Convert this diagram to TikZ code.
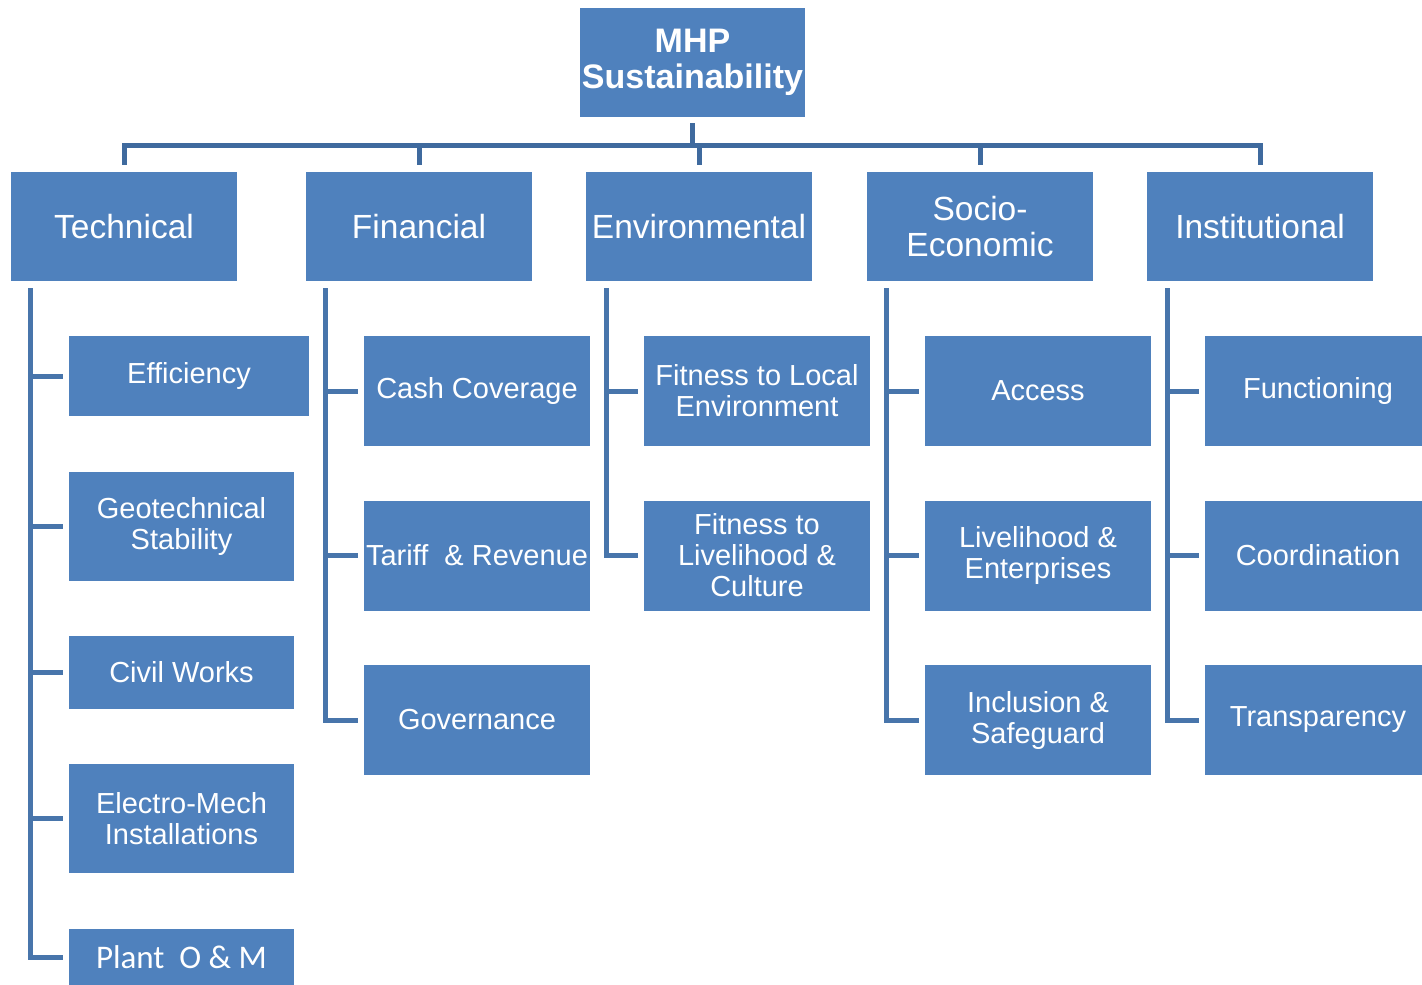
\documentclass[tikz,border=0pt]{standalone}
\usepackage{fontspec}
\setmainfont{Liberation Sans}
\newfontfamily\calfont{Carlito}
\usetikzlibrary{calc}
\definecolor{boxblue}{HTML}{4F81BD}
\definecolor{busline}{HTML}{3F6A9E}
\definecolor{subline}{HTML}{4875AB}
\tikzset{
 box/.style={fill=boxblue, draw=none, text=white, inner sep=0pt, align=center},
 rootbox/.style={box, minimum width=225pt, minimum height=109pt, font=\fontsize{34}{36}\selectfont\bfseries},
 catbox/.style={box, minimum width=226pt, minimum height=109pt, font=\fontsize{33.5}{36}\selectfont},
 subbox/.style={box, minimum width=226pt, minimum height=110pt, font=\fontsize{29}{31}\selectfont},
 bus/.style={draw=busline, line width=5pt},
 branch/.style={draw=subline, line width=5pt},
}
\begin{document}
\begin{tikzpicture}[x=1pt,y=-1pt]
\useasboundingbox (0,0) rectangle (1422,985);
\clip (0,0) rectangle (1422,985);

% root
\node[rootbox] (mhp) at (692.5,62.5) {MHP\\Sustainability};

% categories
\node[catbox] (tech) at (124,226.5) {Technical};
\node[catbox] (fin)  at (419,226.5) {Financial};
\node[catbox] (env)  at (699,226.5) {Environmental};
\node[catbox] (soc)  at (980,226.5) {Socio-\\Economic};
\node[catbox] (inst) at (1260,226.5) {Institutional};

% technical children
\node[subbox, minimum width=240pt, minimum height=80pt] (eff) at (189,376) {Efficiency};
\node[subbox, minimum width=225pt, minimum height=109pt] (geo) at (181.5,526.5) {Geotechnical\\Stability};
\node[subbox, minimum width=225pt, minimum height=73pt] (civ) at (181.5,672.5) {Civil Works};
\node[subbox, minimum width=225pt, minimum height=109pt] (ele) at (181.5,818.5) {Electro-Mech\\Installations};
\node[subbox, minimum width=225pt, minimum height=56pt, font=\calfont\fontsize{33}{36}\selectfont] (plant) at (181.5,957) {Plant~~O \& M};

% financial children
\node[subbox] (cash) at (477,391) {Cash Coverage};
\node[subbox] (tar)  at (477,555.5) {Tariff~~\& Revenue};
\node[subbox] (gov)  at (477,720) {Governance};

% environmental children
\node[subbox] (floc) at (757,391) {Fitness to Local\\Environment};
\node[subbox] (fliv) at (757,555.5) {Fitness to\\Livelihood \&\\Culture};

% socio-economic children
\node[subbox] (acc) at (1038,391) {Access};
\node[subbox] (live) at (1038,555.5) {Livelihood \&\\Enterprises};
\node[subbox] (incl) at (1038,720) {Inclusion \&\\Safeguard};

% institutional children
\node[subbox] (func) at (1318,391) {Functioning};
\node[subbox] (coor) at (1318,555.5) {Coordination};
\node[subbox] (tran) at (1318,720) {Transparency};

% bus connectors
\coordinate (busy) at (0,145);
\draw[bus] ([yshift=-6pt]mhp.south) -- (mhp.south |- busy);
\draw[bus] ([yshift=7pt]tech.north) -- (tech.north |- busy) -- (inst.north |- busy) -- ([yshift=7pt]inst.north);
\draw[bus] (fin.north |- busy) -- ([yshift=7pt]fin.north);
\draw[bus] (env.north |- busy) -- ([yshift=7pt]env.north);
\draw[bus] (soc.north |- busy) -- ([yshift=7pt]soc.north);

% technical branches
\coordinate (tv) at ($(tech.south west)+(20,7)$);
\draw[branch] (tv) |- ([xshift=-6pt]plant.west);
\draw[branch] (tv |- eff.west) -- ([xshift=-6pt]eff.west);
\draw[branch] (tv |- geo.west) -- ([xshift=-6pt]geo.west);
\draw[branch] (tv |- civ.west) -- ([xshift=-6pt]civ.west);
\draw[branch] (tv |- ele.west) -- ([xshift=-6pt]ele.west);

% financial branches
\coordinate (fv) at ($(fin.south west)+(20,7)$);
\draw[branch] (fv) |- ([xshift=-6pt]gov.west);
\draw[branch] (fv |- cash.west) -- ([xshift=-6pt]cash.west);
\draw[branch] (fv |- tar.west) -- ([xshift=-6pt]tar.west);

% environmental branches
\coordinate (ev) at ($(env.south west)+(21,7)$);
\draw[branch] (ev) |- ([xshift=-6pt]fliv.west);
\draw[branch] (ev |- floc.west) -- ([xshift=-6pt]floc.west);

% socio-economic branches
\coordinate (sv) at ($(soc.south west)+(20,7)$);
\draw[branch] (sv) |- ([xshift=-6pt]incl.west);
\draw[branch] (sv |- acc.west) -- ([xshift=-6pt]acc.west);
\draw[branch] (sv |- live.west) -- ([xshift=-6pt]live.west);

% institutional branches
\coordinate (iv) at ($(inst.south west)+(21,7)$);
\draw[branch] (iv) |- ([xshift=-6pt]tran.west);
\draw[branch] (iv |- func.west) -- ([xshift=-6pt]func.west);
\draw[branch] (iv |- coor.west) -- ([xshift=-6pt]coor.west);
\end{tikzpicture}
\end{document}
